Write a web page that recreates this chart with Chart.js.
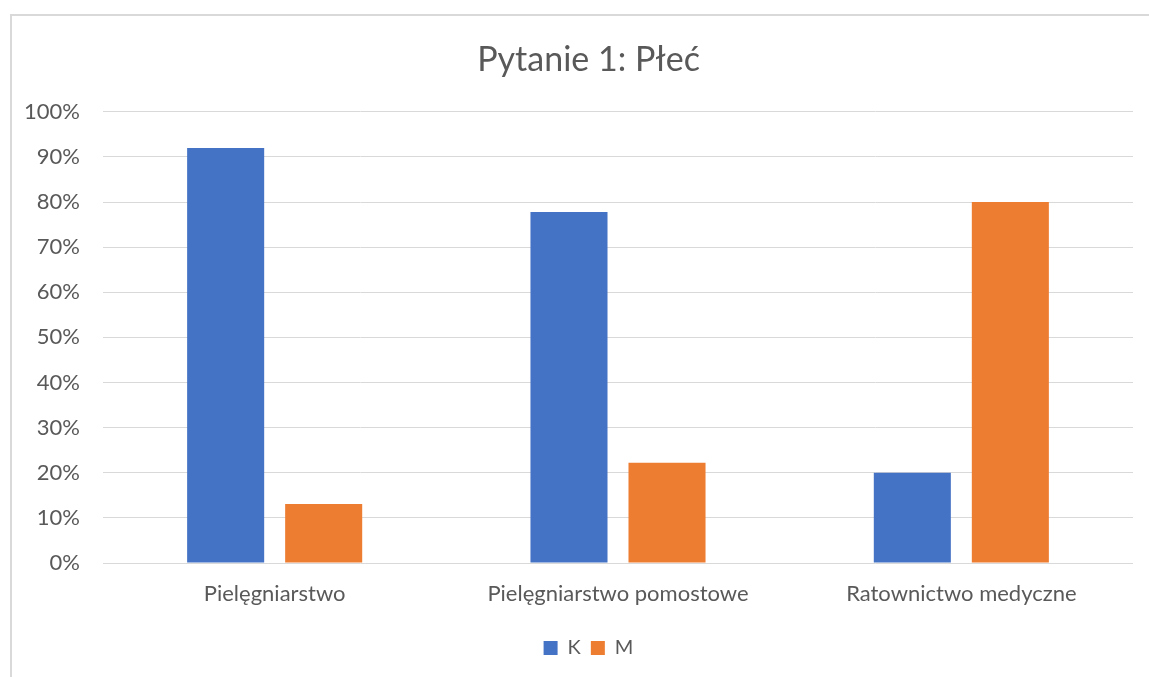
<!DOCTYPE html>
<html>
<head>
<meta charset="utf-8">
<script src="https://cdn.jsdelivr.net/npm/chart.js@4"></script>
<style>
  html, body { margin: 0; padding: 0; background: #ffffff; overflow: hidden; }
  #frame {
    position: absolute; left: 10px; top: 14px;
    width: 1160px; height: 700px;
    border: 2px solid #d9d9d9; box-sizing: border-box;
  }
  #chart { position: absolute; left: 0; top: 0; }
</style>
</head>
<body>
<div id="frame"></div>
<canvas id="chart" width="1149" height="677"></canvas>
<script>
const categories = ["Pielęgniarstwo", "Pielęgniarstwo pomostowe", "Ratownictwo medyczne"];
const seriesK = [92, 77.8, 20];
const seriesM = [13.1, 22.2, 80];
const yTicks = [0, 10, 20, 30, 40, 50, 60, 70, 80, 90, 100];

const textColor = "#595959";
const fontFamily = "Lato, 'Open Sans', sans-serif";

// the original chart frame is wider than the screenshot, so title and legend
// are centred a bit to the right of the canvas middle
const centreShift = 22;

const shiftBlocks = {
  id: "shiftBlocks",
  afterLayout(chart) {
    [chart.titleBlock, chart.legend].forEach((box) => {
      if (box) {
        box.left += centreShift;
        box.right += centreShift;
      }
    });
  }
};

new Chart(document.getElementById("chart"), {
  type: "bar",
  data: {
    labels: categories,
    datasets: [
      {
        label: "K",
        data: seriesK,
        backgroundColor: "#4472c4",
        borderWidth: 0,
        categoryPercentage: 0.571,
        barPercentage: 0.786
      },
      {
        label: "M",
        data: seriesM,
        backgroundColor: "#ed7d31",
        borderWidth: 0,
        categoryPercentage: 0.571,
        barPercentage: 0.786
      }
    ]
  },
  options: {
    responsive: false,
    animation: false,
    layout: { padding: { left: 0, right: 16, top: 0, bottom: 9 } },
    plugins: {
      title: {
        display: true,
        text: "Pytanie 1: Płeć",
        color: textColor,
        font: { family: fontFamily, size: 34, weight: "normal" },
        padding: { top: 40, bottom: 31 }
      },
      legend: {
        position: "bottom",
        labels: {
          color: textColor,
          font: { family: fontFamily, size: 20 },
          boxWidth: 14,
          boxHeight: 14,
          padding: 10
        }
      },
      tooltip: { enabled: false }
    },
    scales: {
      x: {
        grid: { display: false, drawTicks: false },
        border: { display: false },
        ticks: {
          color: textColor,
          font: { family: fontFamily, size: 22 },
          padding: 18,
          maxRotation: 0
        },
        afterFit: (scale) => { scale.height = 65; }
      },
      y: {
        min: 0,
        max: 100,
        afterBuildTicks: (scale) => {
          scale.ticks = yTicks.map((value) => ({ value }));
        },
        grid: { color: "#d9d9d9", lineWidth: 1, drawTicks: false },
        border: { display: false },
        ticks: {
          color: textColor,
          font: { family: fontFamily, size: 22 },
          padding: 23,
          callback: (value) => value + "%"
        },
        afterFit: (scale) => { scale.width = 103; }
      }
    }
  },
  plugins: [shiftBlocks]
});
</script>
</body>
</html>
